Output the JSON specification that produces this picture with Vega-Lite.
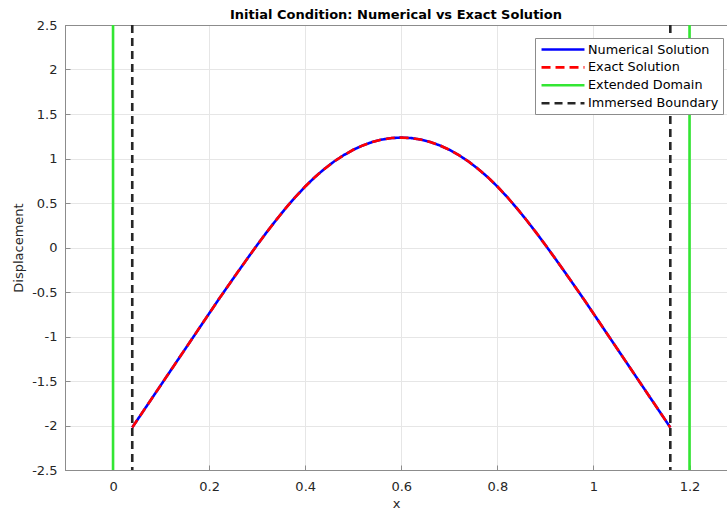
{
  "$schema": "https://vega.github.io/schema/vega-lite/v6.json",
  "autosize": {"type": "none"},
  "padding": {"left": 65, "top": 25, "right": 0, "bottom": 40},
  "width": 662,
  "height": 445,
  "title": {"text": "Initial Condition: Numerical vs Exact Solution", "fontSize": 13, "fontWeight": "bold", "font": "DejaVu Sans", "color": "#000000", "anchor": "middle", "offset": -3},
  "config": {
    "font": "DejaVu Sans",
    "view": {"stroke": "#8c8c8c", "strokeWidth": 1},
    "legend": {"labelFont": "DejaVu Sans"}
  },
  "datasets": {
    "curve": [
      {"x": 0.04, "y": -2.022, "series": "Numerical Solution"},
      {"x": 0.06, "y": -1.862, "series": "Numerical Solution"},
      {"x": 0.08, "y": -1.702, "series": "Numerical Solution"},
      {"x": 0.10, "y": -1.542, "series": "Numerical Solution"},
      {"x": 0.12, "y": -1.382, "series": "Numerical Solution"},
      {"x": 0.14, "y": -1.222, "series": "Numerical Solution"},
      {"x": 0.16, "y": -1.062, "series": "Numerical Solution"},
      {"x": 0.18, "y": -0.902, "series": "Numerical Solution"},
      {"x": 0.20, "y": -0.742, "series": "Numerical Solution"},
      {"x": 0.22, "y": -0.582, "series": "Numerical Solution"},
      {"x": 0.24, "y": -0.427, "series": "Numerical Solution"},
      {"x": 0.26, "y": -0.273, "series": "Numerical Solution"},
      {"x": 0.28, "y": -0.121, "series": "Numerical Solution"},
      {"x": 0.30, "y": 0.028, "series": "Numerical Solution"},
      {"x": 0.32, "y": 0.173, "series": "Numerical Solution"},
      {"x": 0.34, "y": 0.312, "series": "Numerical Solution"},
      {"x": 0.36, "y": 0.445, "series": "Numerical Solution"},
      {"x": 0.38, "y": 0.570, "series": "Numerical Solution"},
      {"x": 0.40, "y": 0.685, "series": "Numerical Solution"},
      {"x": 0.42, "y": 0.790, "series": "Numerical Solution"},
      {"x": 0.44, "y": 0.883, "series": "Numerical Solution"},
      {"x": 0.46, "y": 0.966, "series": "Numerical Solution"},
      {"x": 0.48, "y": 1.037, "series": "Numerical Solution"},
      {"x": 0.50, "y": 1.098, "series": "Numerical Solution"},
      {"x": 0.52, "y": 1.147, "series": "Numerical Solution"},
      {"x": 0.54, "y": 1.186, "series": "Numerical Solution"},
      {"x": 0.56, "y": 1.213, "series": "Numerical Solution"},
      {"x": 0.58, "y": 1.230, "series": "Numerical Solution"},
      {"x": 0.60, "y": 1.235, "series": "Numerical Solution"},
      {"x": 0.62, "y": 1.230, "series": "Numerical Solution"},
      {"x": 0.64, "y": 1.213, "series": "Numerical Solution"},
      {"x": 0.66, "y": 1.186, "series": "Numerical Solution"},
      {"x": 0.68, "y": 1.147, "series": "Numerical Solution"},
      {"x": 0.70, "y": 1.098, "series": "Numerical Solution"},
      {"x": 0.72, "y": 1.037, "series": "Numerical Solution"},
      {"x": 0.74, "y": 0.966, "series": "Numerical Solution"},
      {"x": 0.76, "y": 0.883, "series": "Numerical Solution"},
      {"x": 0.78, "y": 0.790, "series": "Numerical Solution"},
      {"x": 0.80, "y": 0.685, "series": "Numerical Solution"},
      {"x": 0.82, "y": 0.570, "series": "Numerical Solution"},
      {"x": 0.84, "y": 0.445, "series": "Numerical Solution"},
      {"x": 0.86, "y": 0.312, "series": "Numerical Solution"},
      {"x": 0.88, "y": 0.173, "series": "Numerical Solution"},
      {"x": 0.90, "y": 0.028, "series": "Numerical Solution"},
      {"x": 0.92, "y": -0.121, "series": "Numerical Solution"},
      {"x": 0.94, "y": -0.273, "series": "Numerical Solution"},
      {"x": 0.96, "y": -0.427, "series": "Numerical Solution"},
      {"x": 0.98, "y": -0.582, "series": "Numerical Solution"},
      {"x": 1.00, "y": -0.742, "series": "Numerical Solution"},
      {"x": 1.02, "y": -0.902, "series": "Numerical Solution"},
      {"x": 1.04, "y": -1.062, "series": "Numerical Solution"},
      {"x": 1.06, "y": -1.222, "series": "Numerical Solution"},
      {"x": 1.08, "y": -1.382, "series": "Numerical Solution"},
      {"x": 1.10, "y": -1.542, "series": "Numerical Solution"},
      {"x": 1.12, "y": -1.702, "series": "Numerical Solution"},
      {"x": 1.14, "y": -1.862, "series": "Numerical Solution"},
      {"x": 1.16, "y": -2.022, "series": "Numerical Solution"},
      {"x": 0.04, "y": -2.022, "series": "Exact Solution"},
      {"x": 0.06, "y": -1.862, "series": "Exact Solution"},
      {"x": 0.08, "y": -1.702, "series": "Exact Solution"},
      {"x": 0.10, "y": -1.542, "series": "Exact Solution"},
      {"x": 0.12, "y": -1.382, "series": "Exact Solution"},
      {"x": 0.14, "y": -1.222, "series": "Exact Solution"},
      {"x": 0.16, "y": -1.062, "series": "Exact Solution"},
      {"x": 0.18, "y": -0.902, "series": "Exact Solution"},
      {"x": 0.20, "y": -0.742, "series": "Exact Solution"},
      {"x": 0.22, "y": -0.582, "series": "Exact Solution"},
      {"x": 0.24, "y": -0.427, "series": "Exact Solution"},
      {"x": 0.26, "y": -0.273, "series": "Exact Solution"},
      {"x": 0.28, "y": -0.121, "series": "Exact Solution"},
      {"x": 0.30, "y": 0.028, "series": "Exact Solution"},
      {"x": 0.32, "y": 0.173, "series": "Exact Solution"},
      {"x": 0.34, "y": 0.312, "series": "Exact Solution"},
      {"x": 0.36, "y": 0.445, "series": "Exact Solution"},
      {"x": 0.38, "y": 0.570, "series": "Exact Solution"},
      {"x": 0.40, "y": 0.685, "series": "Exact Solution"},
      {"x": 0.42, "y": 0.790, "series": "Exact Solution"},
      {"x": 0.44, "y": 0.883, "series": "Exact Solution"},
      {"x": 0.46, "y": 0.966, "series": "Exact Solution"},
      {"x": 0.48, "y": 1.037, "series": "Exact Solution"},
      {"x": 0.50, "y": 1.098, "series": "Exact Solution"},
      {"x": 0.52, "y": 1.147, "series": "Exact Solution"},
      {"x": 0.54, "y": 1.186, "series": "Exact Solution"},
      {"x": 0.56, "y": 1.213, "series": "Exact Solution"},
      {"x": 0.58, "y": 1.230, "series": "Exact Solution"},
      {"x": 0.60, "y": 1.235, "series": "Exact Solution"},
      {"x": 0.62, "y": 1.230, "series": "Exact Solution"},
      {"x": 0.64, "y": 1.213, "series": "Exact Solution"},
      {"x": 0.66, "y": 1.186, "series": "Exact Solution"},
      {"x": 0.68, "y": 1.147, "series": "Exact Solution"},
      {"x": 0.70, "y": 1.098, "series": "Exact Solution"},
      {"x": 0.72, "y": 1.037, "series": "Exact Solution"},
      {"x": 0.74, "y": 0.966, "series": "Exact Solution"},
      {"x": 0.76, "y": 0.883, "series": "Exact Solution"},
      {"x": 0.78, "y": 0.790, "series": "Exact Solution"},
      {"x": 0.80, "y": 0.685, "series": "Exact Solution"},
      {"x": 0.82, "y": 0.570, "series": "Exact Solution"},
      {"x": 0.84, "y": 0.445, "series": "Exact Solution"},
      {"x": 0.86, "y": 0.312, "series": "Exact Solution"},
      {"x": 0.88, "y": 0.173, "series": "Exact Solution"},
      {"x": 0.90, "y": 0.028, "series": "Exact Solution"},
      {"x": 0.92, "y": -0.121, "series": "Exact Solution"},
      {"x": 0.94, "y": -0.273, "series": "Exact Solution"},
      {"x": 0.96, "y": -0.427, "series": "Exact Solution"},
      {"x": 0.98, "y": -0.582, "series": "Exact Solution"},
      {"x": 1.00, "y": -0.742, "series": "Exact Solution"},
      {"x": 1.02, "y": -0.902, "series": "Exact Solution"},
      {"x": 1.04, "y": -1.062, "series": "Exact Solution"},
      {"x": 1.06, "y": -1.222, "series": "Exact Solution"},
      {"x": 1.08, "y": -1.382, "series": "Exact Solution"},
      {"x": 1.10, "y": -1.542, "series": "Exact Solution"},
      {"x": 1.12, "y": -1.702, "series": "Exact Solution"},
      {"x": 1.14, "y": -1.862, "series": "Exact Solution"},
      {"x": 1.16, "y": -2.022, "series": "Exact Solution"}
    ],
    "lines": [
      {"x": 0, "series": "Extended Domain"},
      {"x": 1.2, "series": "Extended Domain"},
      {"x": 0.04, "series": "Immersed Boundary"},
      {"x": 1.16, "series": "Immersed Boundary"}
    ]
  },
  "encoding": {
    "x": {
      "field": "x", "type": "quantitative",
      "scale": {"domain": [-0.1, 1.278], "nice": false, "zero": false},
      "axis": {
        "values": [0, 0.2, 0.4, 0.6, 0.8, 1, 1.2],
        "labelExpr": "toString(datum.value)",
        "grid": true, "gridColor": "#e6e6e6",
        "domain": true, "domainColor": "#8c8c8c",
        "ticks": true, "tickSize": -5, "tickColor": "#8c8c8c",
        "labelPadding": 15, "labelFlush": false,
        "labelFontSize": 13, "labelFont": "DejaVu Sans", "labelColor": "#262626",
        "title": "x", "titleFontSize": 13, "titleFontWeight": "normal", "titleFont": "DejaVu Sans", "titleColor": "#262626", "titlePadding": 4
      }
    },
    "color": {
      "field": "series", "type": "nominal",
      "scale": {"domain": ["Numerical Solution", "Exact Solution", "Extended Domain", "Immersed Boundary"], "range": ["#0000ff", "#ff0000", "#33e633", "#262626"]},
      "legend": {"title": null, "orient": "none", "legendX": 470, "legendY": 13, "symbolType": "M-0.83,0H6.33", "symbolSize": 144, "labelFontSize": 12.8, "labelColor": "#000000", "labelOffset": 34, "rowPadding": 2.9, "padding": 4, "strokeColor": "#8c8c8c", "fillColor": "#ffffff"}
    },
    "strokeDash": {
      "field": "series", "type": "nominal",
      "scale": {"domain": ["Numerical Solution", "Exact Solution", "Extended Domain", "Immersed Boundary"], "range": [[1, 0], [9, 5], [1, 0], [8, 5]]},
      "legend": {"title": null, "orient": "none", "legendX": 470, "legendY": 13, "symbolType": "M-0.83,0H6.33", "symbolSize": 144, "labelFontSize": 12.8, "labelColor": "#000000", "labelOffset": 34, "rowPadding": 2.9, "padding": 4, "strokeColor": "#8c8c8c", "fillColor": "#ffffff"}
    },
    "strokeWidth": {
      "field": "series", "type": "nominal",
      "scale": {"domain": ["Numerical Solution", "Exact Solution", "Extended Domain", "Immersed Boundary"], "range": [2.6, 2.6, 1.3, 1.8]},
      "legend": {"title": null, "orient": "none", "legendX": 470, "legendY": 13, "symbolType": "M-0.83,0H6.33", "symbolSize": 144, "labelFontSize": 12.8, "labelColor": "#000000", "labelOffset": 34, "rowPadding": 2.9, "padding": 4, "strokeColor": "#8c8c8c", "fillColor": "#ffffff"}
    }
  },
  "layer": [
    {
      "data": {"name": "curve"},
      "mark": {"type": "line", "clip": true},
      "encoding": {
        "y": {
          "field": "y", "type": "quantitative",
          "scale": {"domain": [-2.5, 2.5], "nice": false, "zero": false},
          "axis": {
            "values": [-2.5, -2, -1.5, -1, -0.5, 0, 0.5, 1, 1.5, 2, 2.5],
            "labelExpr": "toString(datum.value)",
            "grid": true,
            "gridColor": {"condition": {"test": "abs(datum.value) >= 2.5", "value": "#8c8c8c"}, "value": "#e6e6e6"},
            "domain": true, "domainColor": "#8c8c8c",
            "ticks": true, "tickSize": -5, "tickColor": "#8c8c8c",
            "labelPadding": 13, "labelFlush": false,
            "labelFontSize": 13, "labelFont": "DejaVu Sans", "labelColor": "#262626",
            "title": "Displacement", "titleFontSize": 13, "titleFontWeight": "normal", "titleFont": "DejaVu Sans", "titleColor": "#262626", "titlePadding": 6
          }
        }
      }
    },
    {
      "data": {"name": "lines"},
      "mark": {"type": "rule", "clip": true},
      "encoding": {}
    }
  ]
}
